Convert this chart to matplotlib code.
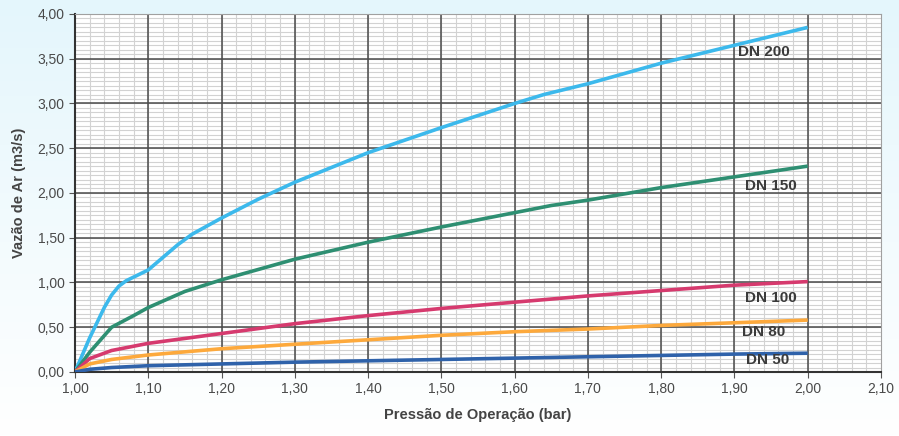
import numpy as np
import matplotlib
matplotlib.use("Agg")
import matplotlib.pyplot as plt
from matplotlib.ticker import MultipleLocator, FuncFormatter
from matplotlib.colors import LinearSegmentedColormap

plt.rcParams['font.family'] = ['Liberation Sans', 'DejaVu Sans']

# Data (pressure in bar, air flow in m3/s)
x_dn200 = [1.00, 1.02, 1.04, 1.05, 1.06, 1.07, 1.08, 1.10, 1.12, 1.14, 1.16, 1.18, 1.20, 1.25, 1.30, 1.40, 1.50, 1.60, 1.64, 1.70, 1.80, 1.90, 2.00]
y_dn200 = [0.00, 0.38, 0.72, 0.86, 0.96, 1.02, 1.06, 1.14, 1.28, 1.42, 1.54, 1.63, 1.72, 1.93, 2.12, 2.45, 2.73, 3.00, 3.10, 3.22, 3.45, 3.65, 3.85]
x_dn150 = [1.00, 1.02, 1.05, 1.08, 1.10, 1.15, 1.20, 1.30, 1.40, 1.50, 1.60, 1.65, 1.70, 1.80, 1.90, 2.00]
y_dn150 = [0.00, 0.22, 0.50, 0.63, 0.72, 0.90, 1.03, 1.26, 1.45, 1.62, 1.78, 1.86, 1.92, 2.06, 2.18, 2.30]
x_dn100 = [1.00, 1.02, 1.05, 1.10, 1.20, 1.30, 1.40, 1.50, 1.60, 1.70, 1.80, 1.90, 2.00]
y_dn100 = [0.00, 0.15, 0.24, 0.32, 0.43, 0.54, 0.63, 0.71, 0.78, 0.85, 0.91, 0.97, 1.01]
x_dn80 = [1.00, 1.02, 1.05, 1.10, 1.20, 1.30, 1.40, 1.50, 1.60, 1.70, 1.80, 1.90, 2.00]
y_dn80 = [0.00, 0.09, 0.14, 0.19, 0.26, 0.31, 0.36, 0.41, 0.45, 0.48, 0.52, 0.55, 0.58]
x_dn50 = [1.00, 1.02, 1.05, 1.10, 1.20, 1.30, 1.40, 1.50, 1.60, 1.70, 1.80, 1.90, 2.00]
y_dn50 = [0.00, 0.03, 0.05, 0.07, 0.09, 0.11, 0.125, 0.14, 0.155, 0.17, 0.185, 0.20, 0.21]

labels = ["DN 200", "DN 150", "DN 100", "DN 80", "DN 50"]
label_x = [1.94, 1.95, 1.95, 1.94, 1.945]
label_y = [3.57, 2.08, 0.83, 0.45, 0.13]

series = [
    (x_dn200, y_dn200, "#3cb9ec"),
    (x_dn150, y_dn150, "#2e8f72"),
    (x_dn100, y_dn100, "#d63a6e"),
    (x_dn80, y_dn80, "#fda93c"),
    (x_dn50, y_dn50, "#2f62aa"),
]

fig = plt.figure(figsize=(8.99, 4.36), dpi=100)
fig.patch.set_facecolor("white")

# background gradient
bg = fig.add_axes([0, 0, 1, 1], zorder=-10)
grad = np.linspace(0, 1, 256).reshape(-1, 1)
cm = LinearSegmentedColormap.from_list("bg", ["#e4f6fc", "#ffffff"])
bg.imshow(grad, aspect="auto", cmap=cm, extent=[0, 1, 0, 1], origin="upper")
bg.axis("off")

ax = fig.add_axes([0.0834, 0.1468, 0.8966, 0.8212])
ax.set_facecolor("white")
ax.set_xlim(1.00, 2.10)
ax.set_ylim(0, 4.00)

ax.xaxis.set_major_locator(MultipleLocator(0.10))
ax.yaxis.set_major_locator(MultipleLocator(0.50))
fmt = FuncFormatter(lambda v, p: f"{v:.2f}".replace(".", ","))
ax.xaxis.set_major_formatter(fmt)
ax.yaxis.set_major_formatter(fmt)

# grid: minor first, major on top
x_minor = MultipleLocator(0.02).tick_values(1.0, 2.1)
y_minor = MultipleLocator(0.05).tick_values(0, 4.0)
for v in x_minor:
    if 1.0 < v < 2.1:
        ax.axvline(v, color="#d2d2d2", linewidth=0.8, zorder=0.5)
for v in y_minor:
    if 0 < v < 4.0:
        ax.axhline(v, color="#d2d2d2", linewidth=0.8, zorder=0.5)
for v in ax.get_xticks():
    if 1.0 < v < 2.09:
        ax.axvline(v, color="#4a4a4a", linewidth=1.1, zorder=0.8)
for v in ax.get_yticks():
    if 0 < v < 3.99:
        ax.axhline(v, color="#4a4a4a", linewidth=1.1, zorder=0.8)

for s in ["top", "right"]:
    ax.spines[s].set_color("#a0a0a0")
ax.spines["left"].set_color("#333333")
ax.spines["left"].set_linewidth(1.5)
ax.spines["bottom"].set_color("#333333")
ax.spines["bottom"].set_linewidth(1.5)

ax.tick_params(which="major", length=4, color="#555555", labelsize=10, labelcolor="#4a4a4a")

for (xs, ys, col) in series:
    ax.plot(xs, ys, color=col, linewidth=2.6, solid_capstyle="butt", zorder=3)
for name, lx, ly in zip(labels, label_x, label_y):
    ax.text(lx, ly, name, ha="center", va="center", fontsize=11,
            fontweight="bold", color="#3a3a3a", zorder=4)

ax.set_xlabel("Pressão de Operação (bar)", fontsize=10.5, fontweight="bold", color="#444444", labelpad=8)
ax.set_ylabel("Vazão de Ar (m3/s)", fontsize=10.5, fontweight="bold", color="#444444", labelpad=8)

fig.savefig("out.png", dpi=100)
